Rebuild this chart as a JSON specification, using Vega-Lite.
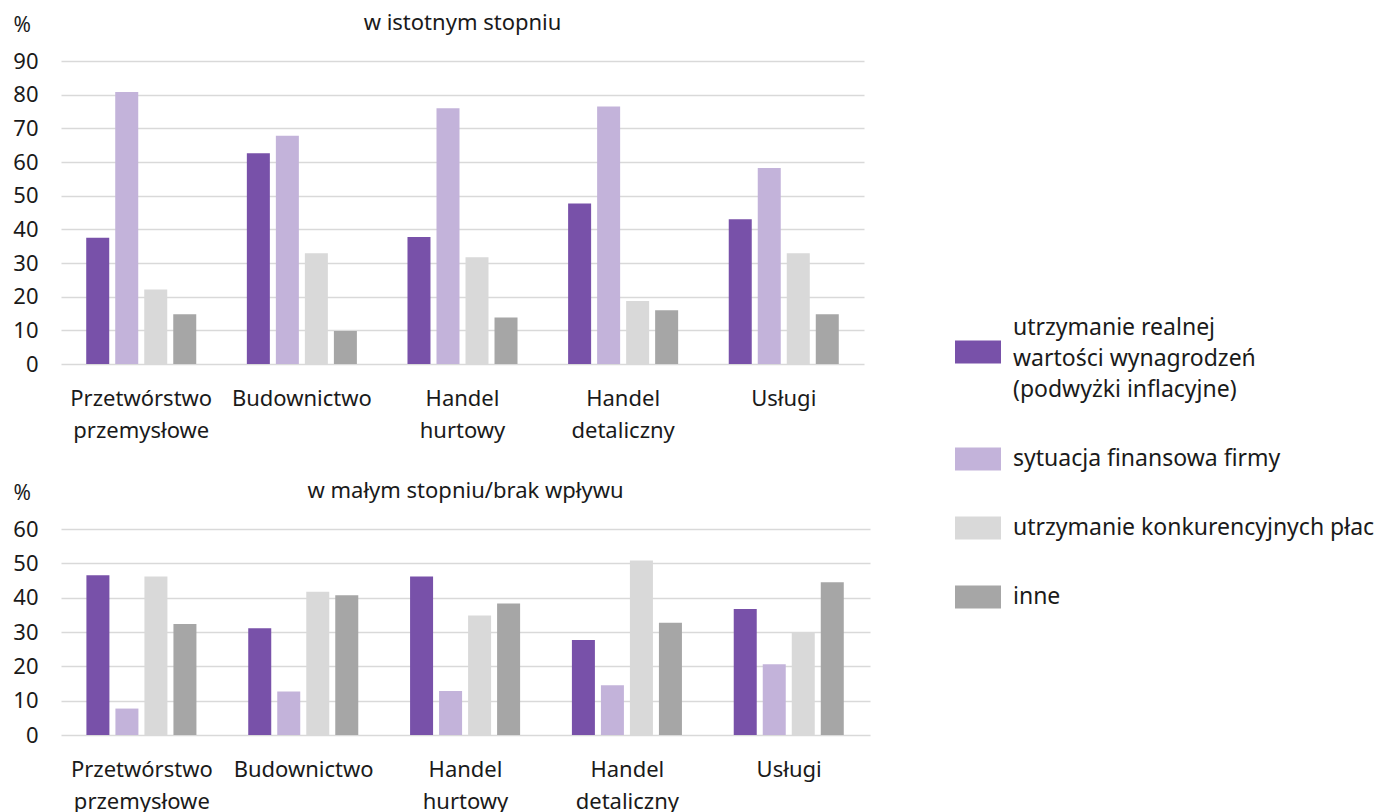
{
  "$schema": "https://vega.github.io/schema/vega-lite/v6.json",
  "background": "white",
  "padding": {"left": 12, "top": 12, "right": 5, "bottom": 0},
  "config": {
    "font": "Noto Sans",
    "view": {"stroke": null},
    "axis": {"labelFont": "Noto Sans", "labelFontSize": 22, "labelColor": "#1a1a1a", "titleColor": "#1a1a1a", "titleFont": "Noto Sans"},
    "title": {"font": "Noto Sans", "fontSize": 22, "fontWeight": "normal", "color": "#1a1a1a", "anchor": "middle", "offset": -21},
    "legend": {"labelFont": "Noto Sans"},
    "concat": {"spacing": 39}
  },
  "datasets": {
    "d": [
      {"panel": "top", "sector": "Przetwórstwo przemysłowe", "series": "utrzymanie realnej\nwartości wynagrodzeń\n(podwyżki inflacyjne)", "value": 37.5},
      {"panel": "top", "sector": "Przetwórstwo przemysłowe", "series": "sytuacja finansowa firmy", "value": 80.8},
      {"panel": "top", "sector": "Przetwórstwo przemysłowe", "series": "utrzymanie konkurencyjnych płac", "value": 22.1},
      {"panel": "top", "sector": "Przetwórstwo przemysłowe", "series": "inne", "value": 14.8},
      {"panel": "top", "sector": "Budownictwo", "series": "utrzymanie realnej\nwartości wynagrodzeń\n(podwyżki inflacyjne)", "value": 62.6},
      {"panel": "top", "sector": "Budownictwo", "series": "sytuacja finansowa firmy", "value": 67.8},
      {"panel": "top", "sector": "Budownictwo", "series": "utrzymanie konkurencyjnych płac", "value": 32.9},
      {"panel": "top", "sector": "Budownictwo", "series": "inne", "value": 9.8},
      {"panel": "top", "sector": "Handel hurtowy", "series": "utrzymanie realnej\nwartości wynagrodzeń\n(podwyżki inflacyjne)", "value": 37.7},
      {"panel": "top", "sector": "Handel hurtowy", "series": "sytuacja finansowa firmy", "value": 76.0},
      {"panel": "top", "sector": "Handel hurtowy", "series": "utrzymanie konkurencyjnych płac", "value": 31.7},
      {"panel": "top", "sector": "Handel hurtowy", "series": "inne", "value": 13.8},
      {"panel": "top", "sector": "Handel detaliczny", "series": "utrzymanie realnej\nwartości wynagrodzeń\n(podwyżki inflacyjne)", "value": 47.7},
      {"panel": "top", "sector": "Handel detaliczny", "series": "sytuacja finansowa firmy", "value": 76.5},
      {"panel": "top", "sector": "Handel detaliczny", "series": "utrzymanie konkurencyjnych płac", "value": 18.7},
      {"panel": "top", "sector": "Handel detaliczny", "series": "inne", "value": 16.0},
      {"panel": "top", "sector": "Usługi", "series": "utrzymanie realnej\nwartości wynagrodzeń\n(podwyżki inflacyjne)", "value": 43.0},
      {"panel": "top", "sector": "Usługi", "series": "sytuacja finansowa firmy", "value": 58.2},
      {"panel": "top", "sector": "Usługi", "series": "utrzymanie konkurencyjnych płac", "value": 32.9},
      {"panel": "top", "sector": "Usługi", "series": "inne", "value": 14.8},
      {"panel": "bottom", "sector": "Przetwórstwo przemysłowe", "series": "utrzymanie realnej\nwartości wynagrodzeń\n(podwyżki inflacyjne)", "value": 46.5},
      {"panel": "bottom", "sector": "Przetwórstwo przemysłowe", "series": "sytuacja finansowa firmy", "value": 7.7},
      {"panel": "bottom", "sector": "Przetwórstwo przemysłowe", "series": "utrzymanie konkurencyjnych płac", "value": 46.2},
      {"panel": "bottom", "sector": "Przetwórstwo przemysłowe", "series": "inne", "value": 32.3},
      {"panel": "bottom", "sector": "Budownictwo", "series": "utrzymanie realnej\nwartości wynagrodzeń\n(podwyżki inflacyjne)", "value": 31.1},
      {"panel": "bottom", "sector": "Budownictwo", "series": "sytuacja finansowa firmy", "value": 12.7},
      {"panel": "bottom", "sector": "Budownictwo", "series": "utrzymanie konkurencyjnych płac", "value": 41.7},
      {"panel": "bottom", "sector": "Budownictwo", "series": "inne", "value": 40.7},
      {"panel": "bottom", "sector": "Handel hurtowy", "series": "utrzymanie realnej\nwartości wynagrodzeń\n(podwyżki inflacyjne)", "value": 46.2},
      {"panel": "bottom", "sector": "Handel hurtowy", "series": "sytuacja finansowa firmy", "value": 12.8},
      {"panel": "bottom", "sector": "Handel hurtowy", "series": "utrzymanie konkurencyjnych płac", "value": 34.8},
      {"panel": "bottom", "sector": "Handel hurtowy", "series": "inne", "value": 38.3},
      {"panel": "bottom", "sector": "Handel detaliczny", "series": "utrzymanie realnej\nwartości wynagrodzeń\n(podwyżki inflacyjne)", "value": 27.7},
      {"panel": "bottom", "sector": "Handel detaliczny", "series": "sytuacja finansowa firmy", "value": 14.5},
      {"panel": "bottom", "sector": "Handel detaliczny", "series": "utrzymanie konkurencyjnych płac", "value": 50.8},
      {"panel": "bottom", "sector": "Handel detaliczny", "series": "inne", "value": 32.7},
      {"panel": "bottom", "sector": "Usługi", "series": "utrzymanie realnej\nwartości wynagrodzeń\n(podwyżki inflacyjne)", "value": 36.7},
      {"panel": "bottom", "sector": "Usługi", "series": "sytuacja finansowa firmy", "value": 20.6},
      {"panel": "bottom", "sector": "Usługi", "series": "utrzymanie konkurencyjnych płac", "value": 30.0},
      {"panel": "bottom", "sector": "Usługi", "series": "inne", "value": 44.5}
    ]
  },
  "vconcat": [
    {
      "width": 803,
      "height": 303,
      "title": {"text": "w istotnym stopniu"},
      "data": {"name": "d"},
      "transform": [{"filter": "datum.panel == 'top'"}],
      "mark": {"type": "bar"},
      "encoding": {
        "x": {
          "field": "sector", "type": "nominal",
          "sort": ["Przetwórstwo przemysłowe", "Budownictwo", "Handel hurtowy", "Handel detaliczny", "Usługi"],
          "scale": {"paddingInner": 0.315, "paddingOuter": 0.157},
          "axis": {"title": null, "labelAngle": 0, "labelExpr": "split(datum.label, ' ')", "domain": false, "ticks": false, "labelPadding": 24, "labelLineHeight": 32, "labelBaseline": "top"}
        },
        "xOffset": {
          "field": "series", "type": "nominal",
          "sort": ["utrzymanie realnej\nwartości wynagrodzeń\n(podwyżki inflacyjne)", "sytuacja finansowa firmy", "utrzymanie konkurencyjnych płac", "inne"],
          "scale": {"paddingInner": 0.207, "paddingOuter": 0}
        },
        "y": {
          "field": "value", "type": "quantitative",
          "scale": {"domain": [0, 90], "nice": false},
          "axis": {"title": "%", "titleAngle": 0, "titleAlign": "left", "titleBaseline": "middle", "titleX": -48, "titleY": -36, "titleFontSize": 21, "titleFontWeight": "normal", "values": [0, 10, 20, 30, 40, 50, 60, 70, 80, 90], "domain": false, "ticks": false, "labelPadding": 23, "grid": true, "gridColor": "#d9d9d9", "gridWidth": 1.5}
        },
        "color": {
          "field": "series", "type": "nominal",
          "scale": {"domain": ["utrzymanie realnej\nwartości wynagrodzeń\n(podwyżki inflacyjne)", "sytuacja finansowa firmy", "utrzymanie konkurencyjnych płac", "inne"], "range": ["#7851a9", "#c3b3da", "#d9d9d9", "#a6a6a6"]},
          "legend": {
            "title": null, "orient": "none", "legendX": 894, "legendY": 268, "padding": 0, "columns": 1, "rowPadding": 34,
            "labelFontSize": 23, "labelColor": "#1a1a1a", "labelLimit": 420, "labelOffset": 12,
            "labelExpr": "split(datum.label, '\\n')",
            "symbolType": "M-1,-0.5H1V0.5H-1Z", "symbolSize": 2116, "symbolStrokeWidth": 0, "symbolOpacity": 1,
            "encode": {"labels": {"update": {"lineHeight": {"value": 31}, "dy": {"signal": "indexof(datum.label, '\\n') >= 0 ? -24 : 0"}}}}
          }
        }
      }
    },
    {
      "width": 809,
      "height": 206,
      "title": {"text": "w małym stopniu/brak wpływu"},
      "data": {"name": "d"},
      "transform": [{"filter": "datum.panel == 'bottom'"}],
      "mark": {"type": "bar"},
      "encoding": {
        "x": {
          "field": "sector", "type": "nominal",
          "sort": ["Przetwórstwo przemysłowe", "Budownictwo", "Handel hurtowy", "Handel detaliczny", "Usługi"],
          "scale": {"paddingInner": 0.315, "paddingOuter": 0.157},
          "axis": {"title": null, "labelAngle": 0, "labelExpr": "split(datum.label, ' ')", "domain": false, "ticks": false, "labelPadding": 24, "labelLineHeight": 32, "labelBaseline": "top"}
        },
        "xOffset": {
          "field": "series", "type": "nominal",
          "sort": ["utrzymanie realnej\nwartości wynagrodzeń\n(podwyżki inflacyjne)", "sytuacja finansowa firmy", "utrzymanie konkurencyjnych płac", "inne"],
          "scale": {"paddingInner": 0.207, "paddingOuter": 0}
        },
        "y": {
          "field": "value", "type": "quantitative",
          "scale": {"domain": [0, 60], "nice": false},
          "axis": {"title": "%", "titleAngle": 0, "titleAlign": "left", "titleBaseline": "middle", "titleX": -48, "titleY": -36, "titleFontSize": 21, "titleFontWeight": "normal", "values": [0, 10, 20, 30, 40, 50, 60], "domain": false, "ticks": false, "labelPadding": 23, "grid": true, "gridColor": "#d9d9d9", "gridWidth": 1.5}
        },
        "color": {
          "field": "series", "type": "nominal",
          "scale": {"domain": ["utrzymanie realnej\nwartości wynagrodzeń\n(podwyżki inflacyjne)", "sytuacja finansowa firmy", "utrzymanie konkurencyjnych płac", "inne"], "range": ["#7851a9", "#c3b3da", "#d9d9d9", "#a6a6a6"]}
        }
      }
    }
  ],
  "resolve": {"scale": {"color": "shared", "x": "independent", "y": "independent"}}
}
